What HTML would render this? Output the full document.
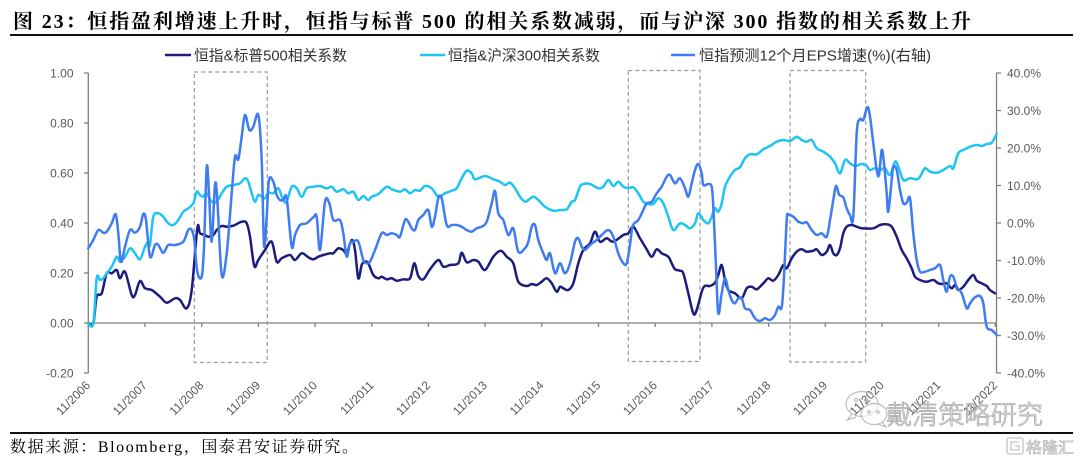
<!DOCTYPE html>
<html>
<head>
<meta charset="utf-8">
<style>
html,body{margin:0;padding:0;background:#fff;}
svg{display:block;}
</style>
</head>
<body>
<svg id="chart" width="1080" height="463" viewBox="0 0 1080 463" xmlns="http://www.w3.org/2000/svg">
<rect width="1080" height="463" fill="#fff"/>

<!-- Title -->
<text x="13" y="28" font-family="Liberation Serif, 'Noto Serif CJK SC', serif" font-weight="bold" font-size="20" fill="#000" textLength="958" lengthAdjust="spacing">图 23：恒指盈利增速上升时，恒指与标普 500 的相关系数减弱，而与沪深 300 指数的相关系数上升</text>
<line x1="10" y1="35" x2="1073" y2="35" stroke="#111" stroke-width="2"/>

<!-- Legend -->
<g font-family="Liberation Sans, 'Noto Sans CJK SC', sans-serif" font-size="15" fill="#333">
  <line x1="165" y1="55" x2="191" y2="55" stroke="#1c1c7c" stroke-width="2.5"/>
  <text x="194" y="60.5" textLength="153" lengthAdjust="spacingAndGlyphs">恒指&amp;标普500相关系数</text>
  <line x1="420" y1="55" x2="445" y2="55" stroke="#1ec4f2" stroke-width="2.5"/>
  <text x="448" y="60.5" textLength="152" lengthAdjust="spacingAndGlyphs">恒指&amp;沪深300相关系数</text>
  <line x1="671" y1="55" x2="695" y2="55" stroke="#3f7cf2" stroke-width="2.5"/>
  <text x="699" y="60.5" textLength="232" lengthAdjust="spacingAndGlyphs">恒指预测12个月EPS增速(%)(右轴)</text>
</g>

<!-- Axes -->
<g stroke="#7f7f7f" stroke-width="1.3" fill="none">
  <line x1="88.3" y1="73" x2="88.3" y2="373"/>
  <line x1="996.5" y1="73" x2="996.5" y2="373"/>
  <line x1="88.3" y1="323" x2="996.5" y2="323"/>
  <line x1="84" y1="73" x2="88.3" y2="73"/>
  <line x1="84" y1="123" x2="88.3" y2="123"/>
  <line x1="84" y1="173" x2="88.3" y2="173"/>
  <line x1="84" y1="223" x2="88.3" y2="223"/>
  <line x1="84" y1="273" x2="88.3" y2="273"/>
  <line x1="84" y1="323" x2="88.3" y2="323"/>
  <line x1="84" y1="373" x2="88.3" y2="373"/>
  <line x1="996.5" y1="73" x2="1001" y2="73"/>
  <line x1="996.5" y1="110.5" x2="1001" y2="110.5"/>
  <line x1="996.5" y1="148" x2="1001" y2="148"/>
  <line x1="996.5" y1="185.5" x2="1001" y2="185.5"/>
  <line x1="996.5" y1="223" x2="1001" y2="223"/>
  <line x1="996.5" y1="260.5" x2="1001" y2="260.5"/>
  <line x1="996.5" y1="298" x2="1001" y2="298"/>
  <line x1="996.5" y1="335.5" x2="1001" y2="335.5"/>
  <line x1="996.5" y1="373" x2="1001" y2="373"/>
  <line x1="88.3" y1="323" x2="88.3" y2="327"/>
  <line x1="145" y1="323" x2="145" y2="327"/>
  <line x1="201.7" y1="323" x2="201.7" y2="327"/>
  <line x1="258.4" y1="323" x2="258.4" y2="327"/>
  <line x1="315.1" y1="323" x2="315.1" y2="327"/>
  <line x1="371.8" y1="323" x2="371.8" y2="327"/>
  <line x1="428.4" y1="323" x2="428.4" y2="327"/>
  <line x1="485.1" y1="323" x2="485.1" y2="327"/>
  <line x1="541.8" y1="323" x2="541.8" y2="327"/>
  <line x1="598.5" y1="323" x2="598.5" y2="327"/>
  <line x1="655.2" y1="323" x2="655.2" y2="327"/>
  <line x1="711.9" y1="323" x2="711.9" y2="327"/>
  <line x1="768.6" y1="323" x2="768.6" y2="327"/>
  <line x1="825.3" y1="323" x2="825.3" y2="327"/>
  <line x1="882" y1="323" x2="882" y2="327"/>
  <line x1="938.7" y1="323" x2="938.7" y2="327"/>
  <line x1="995.3" y1="323" x2="995.3" y2="327"/>
</g>

<!-- Left labels -->
<g font-family="Liberation Sans, sans-serif" font-size="12" fill="#595959" text-anchor="end">
  <text x="73.5" y="77.3">1.00</text>
  <text x="73.5" y="127.3">0.80</text>
  <text x="73.5" y="177.3">0.60</text>
  <text x="73.5" y="227.3">0.40</text>
  <text x="73.5" y="277.3">0.20</text>
  <text x="73.5" y="327.3">0.00</text>
  <text x="73.5" y="377.3">-0.20</text>
</g>
<!-- Right labels -->
<g font-family="Liberation Sans, sans-serif" font-size="12" fill="#595959">
  <text x="1007" y="77.3">40.0%</text>
  <text x="1007" y="114.8">30.0%</text>
  <text x="1007" y="152.3">20.0%</text>
  <text x="1007" y="189.8">10.0%</text>
  <text x="1007" y="227.3">0.0%</text>
  <text x="1007" y="264.8">-10.0%</text>
  <text x="1007" y="302.3">-20.0%</text>
  <text x="1007" y="339.8">-30.0%</text>
  <text x="1007" y="377.3">-40.0%</text>
</g>
<!-- X labels -->
<g font-family="Liberation Sans, sans-serif" font-size="12" fill="#595959" text-anchor="end">
  <text transform="translate(91,386) rotate(-45)">11/2006</text>
  <text transform="translate(147.7,386) rotate(-45)">11/2007</text>
  <text transform="translate(204.4,386) rotate(-45)">11/2008</text>
  <text transform="translate(261.1,386) rotate(-45)">11/2009</text>
  <text transform="translate(317.8,386) rotate(-45)">11/2010</text>
  <text transform="translate(374.5,386) rotate(-45)">11/2011</text>
  <text transform="translate(431.1,386) rotate(-45)">11/2012</text>
  <text transform="translate(487.8,386) rotate(-45)">11/2013</text>
  <text transform="translate(544.5,386) rotate(-45)">11/2014</text>
  <text transform="translate(601.2,386) rotate(-45)">11/2015</text>
  <text transform="translate(657.9,386) rotate(-45)">11/2016</text>
  <text transform="translate(714.6,386) rotate(-45)">11/2017</text>
  <text transform="translate(771.3,386) rotate(-45)">11/2018</text>
  <text transform="translate(828,386) rotate(-45)">11/2019</text>
  <text transform="translate(884.7,386) rotate(-45)">11/2020</text>
  <text transform="translate(941.4,386) rotate(-45)">11/2021</text>
  <text transform="translate(998,386) rotate(-45)">11/2022</text>
</g>

<!-- Dashed boxes -->
<g fill="none" stroke="#9a9a9a" stroke-width="1.2" stroke-dasharray="4,3">
  <rect x="194.3" y="72" width="73" height="290.5"/>
  <rect x="628.3" y="70.5" width="71.7" height="291"/>
  <rect x="790" y="70.5" width="75.7" height="291.5"/>
</g>

<!-- Series -->
<g fill="none" stroke-width="2.5" stroke-linejoin="round" stroke-linecap="round">
<polyline class="s" stroke="#1c1c7c" points="88.3,323.3 93.3,323.3 96.7,296.7 101.7,293.3 106.7,273.3 111.7,273.3 116.7,270 120,278.3 125,271.7 131.7,295 135,295 140,281 145,288.3 151.7,290 160,296.7 166.7,302.7 175,298.3 180,300 186.7,308.3 191.7,290 197.3,228.3 200,233.3 205,235 208.3,236.7 213.3,235 216.7,230 221.7,226 226.7,226.7 233.3,225.7 241.7,221.7 246.7,223.3 250,236.7 254.3,266 258.3,260 265,250 271.7,241.7 276.7,261.7 281.7,258.3 290,255 295,260 301.7,253.3 308.3,257.3 313.3,259.3 318.3,256.7 323.3,255 330,253.3 333.3,253.3 338.3,248.3 343.3,250 346.7,253.3 351.7,240 355,250 358.3,278.3 361.7,265 365,261.7 368.3,263.3 373.3,275 378.3,278.3 381.7,276.7 386.7,279.3 391.7,278.3 396.7,280.7 403.3,279.3 410,278.3 414.3,263.3 418.3,276 423.3,279.3 430,269.3 438.3,260 443.3,266.7 450,265 458.3,263.3 461.7,252.7 466.7,262.3 473.3,260 478.3,261.7 485,270 493.3,256.7 500.7,250.7 506.7,256.7 513.3,263.3 518.3,281.7 526.7,286 531.7,284 536.7,285 541.7,281.7 546.7,278.3 551.7,283.3 556.7,291.7 560,286.7 563.3,288.3 568.3,290 573.3,283.3 578.3,263.3 583.3,250 590,243.3 595,231.7 600,241.7 606.7,238.3 613.3,241.7 623.3,235 628.3,233.3 633.3,226.7 640,238.3 646.7,249.3 651.7,256.7 656.7,249.3 661.7,253.3 668.3,256.7 671.7,263.3 675,269.3 680,270.7 683.3,273.3 688.3,293.3 693.3,313.3 696.7,310 703.3,287.7 710,286 715,282.7 718.3,275 721.7,265 725,280 728.3,290 735,293.3 741.7,298.3 746.7,288.3 751.7,286.7 756.7,289.3 763.3,283.3 768.3,278.3 773.3,280.7 778.3,275 783.3,265 786.7,268.3 791.7,258.3 796.7,251.7 801.7,249.3 806.7,251.7 813.3,250.7 816.7,249.3 821.7,255 826.7,251.7 830,245 833.3,253.3 836.7,255 840,248.3 843.3,233.3 846.7,226.7 851.7,225 856.7,226.7 861.7,228.3 873.3,228.3 880,225 886.7,224.3 891.7,226.7 896.7,236.7 901.7,250 906.7,258.3 911.7,268.3 915,276.7 920,280 926.7,281.7 933.3,280 938.3,283.3 943.3,284 946.7,283.3 951.7,288.3 955,285 958.3,290 963.3,286.7 968.3,280 973.3,275 976.7,280.7 981.7,283.3 986.7,286 990,290 995,293.3"/>
<polyline class="s" stroke="#1ec4f2" points="88.3,323.3 93.3,323.3 96.7,278.3 100,280 103.3,278.3 106.7,273.3 111.7,266.7 116.7,256.7 120,261.7 125,256.7 130,248.3 135,253.3 140,259.3 145,246.7 148.3,241.7 150,245 153.3,216.7 158.3,213.3 163.3,216.7 168.3,223.3 173.3,225 178.3,220 183.3,211.7 188.3,208.3 193.3,203.3 196.7,191.7 200,195 203.3,196.7 206.7,193.3 211.7,201.7 216.7,201.7 221.7,193.3 226.7,186.7 233.3,185 240,183.3 245,178.3 248.3,181.7 251.7,193.3 255,201.7 258.3,195 261.7,196.7 265,198.3 268.3,192.7 273.3,193.3 278.3,188.3 283.3,200 286.7,201.7 291.7,186.7 296.7,188.3 301.7,196.7 306.7,188.3 313.3,186.7 320,186 326.7,188.3 331.7,186.7 336.7,191.7 343.3,189.3 348.3,193.3 353.3,191.7 358.3,200 363.3,196 368.3,200 371.7,196.7 378.3,194 386.7,186.7 391.7,189.3 400,191.7 405,189.3 410,193.3 415,190 420,190.7 425,186 431.7,188.3 438.3,196.7 445,193.3 451.7,190.7 456.7,188.3 461.7,178.3 466.7,170.7 471.7,173.3 475,179.3 485,176 493.3,179.3 500,181.7 505,185 510,182.7 515,188.3 520,196.7 525,201.7 528.3,200 533.3,196.7 538.3,200 545,206.7 553.3,210.7 560,210 566.7,209.3 571.7,201.7 575,200 580,186.7 583.3,184 590,184 598.3,188.3 603.3,186.7 608.3,180 613.3,186 618.3,181.7 623.3,186.7 628.3,188.3 633.3,187.3 638.3,193.3 643.3,201.7 648.3,204 653.3,204 658.3,198.3 663.3,203.3 668.3,216.7 673.3,230 680,223.3 685,225 690,228.3 695,223.3 698.3,213.3 703.3,220 708.3,223.3 711.7,216.7 715,208.3 718.3,211.7 721.7,203.3 725,186.7 730,176.7 735,170 740,167.3 745,158.3 750,154.3 756.7,154.3 763.3,149.3 770,146 776.7,141.7 783.3,140 790,141 796.7,136.7 801.7,140 806.7,141.7 811.7,140 816.7,148.3 823.3,151.7 830,156.7 835,163.3 840,173.3 845,160 850,163.3 855,166 861.7,164 866.7,166 870,170 875,168.3 880,170 885,168.3 890,175 895,161.7 898.3,166.7 903.3,180 910,178.3 916.7,179.3 920,176.7 925,168.3 930,171.7 936.7,172.7 943.3,170 950,166 953.3,168.3 958.3,153.3 965,149.3 970,146.7 976.7,145 981.7,146 986.7,144 991.7,142.7 996.7,134"/>
<polyline class="s" stroke="#3f7cf2" points="88.3,248.3 93.3,240 98.3,230 103.3,232.7 106.7,231.7 111.7,223.3 115.7,214.3 118.3,233.3 121,261.7 125,246.7 130,230 135,232.7 140,226.7 143.3,214 146,220 150,256.7 155,245 158.3,245 163.3,252.7 168.3,245 175,245 183.3,241.7 188.3,230 191.7,230 194.3,240 197.3,271.7 201.7,276.7 204,246.7 206.7,167.3 209,193.3 211.7,241.7 215,185 217.3,200 221.7,275 226.7,253.3 231.7,193.3 235,156.7 238.3,159.3 241.7,136.7 245,115 249.3,130 253.3,126.7 258.3,115 261.7,160 264,245 266.7,216.7 269,180 273.3,181.7 276.7,195 280,200 283.3,200 286.7,198.3 291.7,246.7 295,235 300,225 306.7,223.3 313.3,217.3 316.7,216.7 320,250 325,201.7 329.3,203.3 333.3,220 340,220 343.3,233.3 346.7,256.7 350,243.3 353.3,241.7 358.3,241.7 363.3,260 366.7,263.3 370,261.7 375,250 381.7,233.3 386.7,235 391.7,233.3 396.7,235 400,236.7 405,220 408.3,221.7 411.7,228.3 415,230 418.3,220 423.3,215 428.3,210 431.7,226.7 435,216.7 438.3,198.3 441.7,198.3 446.7,225 451.7,225 456.7,225 461.7,226.7 466.7,230 471.7,231.7 476.7,228.3 481.7,226.7 486.7,221.7 491.7,203.3 495,191 498.3,213.3 503.3,220 508.3,235 513.3,228.3 518.3,251.7 525,248.3 528.3,241.7 531.7,226.7 535,225 538.3,240 543.3,253.3 546.7,260 550,253.3 555,273.3 560,263.3 565,273.3 570,263.3 575,241.7 578.3,238.3 581.7,246.7 585,250 590,245 596.7,240 601.7,235 608.3,230 613.3,236.7 618.3,253.3 623.3,263.3 626.7,263.3 630,245 632.7,226 638.3,220 643.3,210 646.7,203.3 651.7,201.7 656.7,193.3 661.7,186.7 666.7,176.7 670,175 675,183.3 680,178.3 685,188.3 688.3,196.7 691.7,183.3 695,170 698.3,164 701.7,173.3 703.3,185 708.3,184 711.7,186.7 713.3,206.7 716,266.7 718.3,313.3 721.7,293.3 725,278.3 728.3,290 731.7,300 735,303.3 738.3,298.3 741.7,298.3 745,308.3 750,310 755,318.3 760,321 765,318.3 770,320 775,315 778.3,306.7 781.7,307.3 784,276.7 786.7,220 788.3,215 793.3,216.7 798.3,221.7 803.3,223.3 806.7,222.3 811.7,230 816.7,235 821.7,233.3 826.7,236.7 830,220 833.3,200 836,186 839.3,195 843.3,197.3 846.7,208.3 850,215 853.3,216.7 856.7,133.3 860,119.3 863.3,120 868.3,107.7 873.3,143.3 876.7,170 879,175 881.7,150 884,163.3 886.7,193.3 888.3,211.7 891.7,180 893.3,166.7 896.7,170 900,190 903.3,203.3 906.7,202.7 910,198.3 913.3,233.3 916.7,260 920,271.7 925,271.7 930,270 935,268.3 940,265 943.3,280 946.7,291.7 950,276.7 953.3,276.7 956.7,286.7 961.7,293.3 966.7,308.3 970,303.3 975,297.3 980,296 983.3,303.3 986.7,326.7 991.7,330 996.7,335"/>
</g>

<!-- Watermark (WeChat icon + name) -->
<g fill="none" stroke="#b5b5b5" stroke-width="1.2" opacity="0.9">
  <ellipse cx="862" cy="404" rx="16" ry="12.5"/>
  <path d="M852,414 l-5,6 l9,-3"/>
  <ellipse cx="874" cy="414" rx="13" ry="10.5" fill="#fff" fill-opacity="0.6"/>
  <path d="M882,422 l4,5 l-8,-3"/>
  <circle cx="856" cy="400" r="1.6"/>
  <circle cx="866" cy="400" r="1.6"/>
  <circle cx="869" cy="412" r="1.3"/>
  <circle cx="878" cy="412" r="1.3"/>
</g>
<text x="886" y="424" font-family="'Noto Sans CJK SC', 'WenQuanYi Zen Hei', sans-serif" font-size="26" font-weight="300" fill="#fff" fill-opacity="0.4" stroke="#a8a8a8" stroke-width="0.8" textLength="157" lengthAdjust="spacingAndGlyphs">戴清策略研究</text>

<!-- Bottom rule and source -->
<line x1="10" y1="433" x2="1073" y2="433" stroke="#111" stroke-width="2"/>
<text x="10" y="452" font-family="Liberation Serif, 'Noto Serif CJK SC', serif" font-size="16" fill="#000" textLength="348" lengthAdjust="spacing">数据来源：Bloomberg，国泰君安证券研究。</text>

<!-- 格隆汇 logo -->
<g stroke="#c4c4c4" stroke-width="1.3" fill="none">
  <rect x="1007" y="438" width="16" height="16" rx="2"/>
  <path d="M1019,442 h-8 v8 h8 v-4 h-4"/>
</g>
<text x="1026" y="452.5" font-family="'Noto Sans CJK SC', sans-serif" font-size="15" fill="#fff" stroke="#bdbdbd" stroke-width="0.8" textLength="48" lengthAdjust="spacingAndGlyphs">格隆汇</text>
</svg>
<script>
(function(){
  var NS="http://www.w3.org/2000/svg";
  var lines=document.querySelectorAll("polyline.s");
  for(var k=0;k<lines.length;k++){
    var pl=lines[k];
    var pts=pl.getAttribute("points").trim().split(/\s+/).map(function(p){return p.split(",").map(Number);});
    var d="M"+pts[0][0]+","+pts[0][1];
    for(var i=0;i<pts.length-1;i++){
      var p0=pts[i-1]||pts[i],p1=pts[i],p2=pts[i+1],p3=pts[i+2]||p2;
      var c1x=p1[0]+(p2[0]-p0[0])/6,c1y=p1[1]+(p2[1]-p0[1])/6;
      var c2x=p2[0]-(p3[0]-p1[0])/6,c2y=p2[1]-(p3[1]-p1[1])/6;
      d+=" C"+c1x.toFixed(2)+","+c1y.toFixed(2)+" "+c2x.toFixed(2)+","+c2y.toFixed(2)+" "+p2[0]+","+p2[1];
    }
    var path=document.createElementNS(NS,"path");
    path.setAttribute("d",d);
    path.setAttribute("stroke",pl.getAttribute("stroke"));
    path.setAttribute("fill","none");
    pl.parentNode.replaceChild(path,pl);
  }
})();
</script>
</body>
</html>
